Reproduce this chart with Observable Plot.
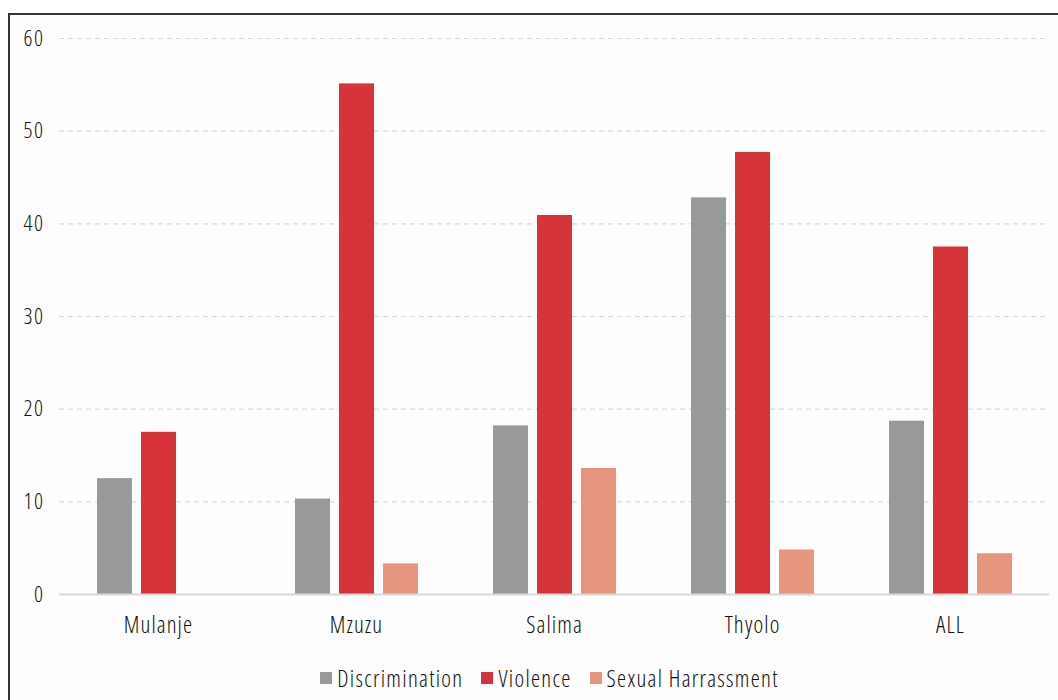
<!DOCTYPE html>
<html>
<head>
<meta charset="utf-8">
<script src="https://cdn.jsdelivr.net/npm/d3@7"></script>
<script src="https://cdn.jsdelivr.net/npm/@observablehq/plot@0.6"></script>
<style>
  html, body { margin: 0; padding: 0; background: #ffffff; overflow: hidden; }
  #frame {
    position: absolute; left: 8px; top: 13px; width: 1060px; height: 720px;
    border-left: 2px solid #333; border-top: 2px solid #333;
    background: #fdfdfd; font-family: "Open Sans", sans-serif; font-stretch: 75%; font-weight: 300;
  }
  #chart { position: absolute; left: 0; top: 0; }
  #chart svg text { font-stretch: 75%; font-weight: 300; letter-spacing: 1.1px; }
  #chart svg g[aria-label="y-axis tick label"] text { font-size: 22px; letter-spacing: 1.5px; }
  #legend {
    position: absolute; left: 0; top: 646px; width: 1048px; padding-left: 31px; box-sizing: border-box;
    display: flex; justify-content: center; align-items: center;
    font-size: 23px; color: #111; line-height: 34px; letter-spacing: 1.3px;
  }
  .item { display: flex; align-items: center; margin: 0 9px; }
  .sw { width: 12px; height: 12px; margin-right: 5px; }
</style>
</head>
<body>
<div id="frame"><div id="chart"></div><div id="legend"></div></div>
<script>
const regions = ["Mulanje", "Mzuzu", "Salima", "Thyolo", "ALL"];
const series = ["Discrimination", "Violence", "Sexual Harrassment"];
const discrimination = [12.5, 10.3, 18.2, 42.8, 18.7];
const violence = [17.5, 55.1, 40.9, 47.7, 37.5];
const sexualHarassment = [null, 3.3, 13.6, 4.8, 4.4];
const yTicks = [0, 10, 20, 30, 40, 50, 60];
const colors = ["#98999b", "#d4343a", "#e6957f"];

const valuesBySeries = [discrimination, violence, sexualHarassment];
const data = [];
regions.forEach((r, i) => {
  series.forEach((s, j) => {
    const v = valuesBySeries[j][i];
    if (v != null) data.push({region: r, series: s, value: v});
  });
});

const font = "Open Sans, sans-serif";
const chart = Plot.plot({
  width: 1048,
  height: 630,
  marginTop: 23,
  marginBottom: 51,
  marginLeft: 48,
  marginRight: 8,
  style: {fontFamily: font, fontSize: "23px", color: "#111", background: "transparent"},
  fx: {domain: regions, padding: 0, label: null, tickSize: 0, tickPadding: 22, axis: "bottom"},
  x: {domain: series, axis: null, paddingInner: 0.21, paddingOuter: 0.834},
  y: {domain: [0, 60], ticks: yTicks, tickSize: 0, tickPadding: 15, label: null, grid: false},
  color: {domain: series, range: colors},
  marks: [
    Plot.gridY(yTicks.filter(d => d > 0), {stroke: "#d9d9d9", strokeOpacity: 1, strokeDasharray: "5,4", strokeWidth: 1.2}),
    Plot.barY(data, {fx: "region", x: "series", y: "value", fill: "series"}),
    Plot.ruleY([0], {stroke: "#d9d9d9", strokeWidth: 2})
  ]
});
document.getElementById("chart").appendChild(chart);

const legend = document.getElementById("legend");
series.forEach((s, j) => {
  const it = document.createElement("div");
  it.className = "item";
  const sw = document.createElement("div");
  sw.className = "sw";
  sw.style.background = colors[j];
  const t = document.createElement("span");
  t.textContent = s;
  it.appendChild(sw); it.appendChild(t);
  legend.appendChild(it);
});
</script>
</body>
</html>
